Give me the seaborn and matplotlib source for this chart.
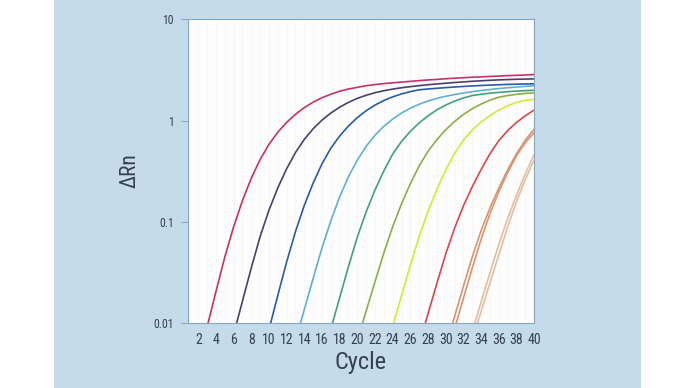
import matplotlib
matplotlib.use("Agg")
import pandas as pd
import seaborn as sns
import matplotlib.pyplot as plt
from matplotlib import font_manager
from matplotlib.patches import Rectangle
from matplotlib.ticker import NullLocator

# amplification curves, one value per cycle, starting at first_cycle
first_cycle = [3, 6, 10, 13, 17, 20, 24, 27, 30, 31, 33, 33]
curve_names = ["c1", "c2", "c3", "c4", "c5", "c6", "c7", "c8", "c9a", "c9b", "c10a", "c10b"]
curve_colors = ["#c8306a", "#4c3f6b", "#2c5aa8", "#62b0cf", "#44a07a", "#8cae48",
                "#d4ea30", "#d8484a", "#d99470", "#d99470", "#e3bea0", "#e3bea0"]

c1 = [0.0091, 0.0204, 0.0447, 0.0891, 0.162, 0.269, 0.412, 0.582, 0.767, 0.959, 1.153,
      1.343, 1.52, 1.68, 1.82, 1.95, 2.05, 2.13, 2.21, 2.27, 2.32, 2.36, 2.40, 2.44, 2.48,
      2.52, 2.55, 2.59, 2.62, 2.65, 2.68, 2.70, 2.73, 2.75, 2.78, 2.80, 2.82, 2.85]
c2 = [0.00766, 0.0164, 0.035, 0.0714, 0.13, 0.216, 0.334, 0.483, 0.652, 0.83, 1.009,
      1.186, 1.355, 1.514, 1.656, 1.778, 1.884, 1.972, 2.046, 2.109, 2.163, 2.213, 2.259,
      2.301, 2.339, 2.377, 2.41, 2.443, 2.472, 2.50, 2.523, 2.541, 2.559, 2.57, 2.582]
c3 = [0.00855, 0.0187, 0.040, 0.0798, 0.145, 0.241, 0.373, 0.533, 0.703, 0.885, 1.069,
      1.25, 1.422, 1.578, 1.714, 1.832, 1.932, 2.014, 2.051, 2.084, 2.116, 2.145, 2.173,
      2.198, 2.221, 2.241, 2.259, 2.275, 2.288, 2.299, 2.307]
c4 = [0.0066, 0.0135, 0.0275, 0.055, 0.102, 0.176, 0.279, 0.407, 0.556, 0.716, 0.877,
      1.035, 1.186, 1.324, 1.449, 1.56, 1.656, 1.738, 1.807, 1.871, 1.928, 1.982, 2.028,
      2.07, 2.109, 2.143, 2.178, 2.208]
c5 = [0.00867, 0.0177, 0.0361, 0.0705, 0.125, 0.206, 0.318, 0.466, 0.621, 0.782, 0.948,
      1.114, 1.274, 1.422, 1.556, 1.671, 1.766, 1.82, 1.862, 1.897, 1.928, 1.954, 1.975,
      1.991]
c6 = [0.0067, 0.0131, 0.0255, 0.0491, 0.0893, 0.15, 0.238, 0.356, 0.497, 0.647, 0.811,
      0.979, 1.146, 1.306, 1.455, 1.589, 1.702, 1.766, 1.816, 1.854, 1.879]
c7 = [0.00933, 0.0186, 0.0372, 0.0716, 0.127, 0.209, 0.324, 0.473, 0.638, 0.804, 0.966,
      1.122, 1.268, 1.40, 1.514, 1.585, 1.62]
c8 = [0.00617, 0.0123, 0.0245, 0.0479, 0.0861, 0.143, 0.221, 0.327, 0.468, 0.631, 0.794,
      0.955, 1.114, 1.268]
c9a = [0.00575, 0.0115, 0.0229, 0.0447, 0.0813, 0.136, 0.214, 0.324, 0.468, 0.638, 0.822]
c9b = [0.0087, 0.0174, 0.0347, 0.0668, 0.119, 0.197, 0.305, 0.447, 0.603, 0.759]
c10a = [0.00818, 0.016, 0.0311, 0.0593, 0.107, 0.181, 0.297, 0.46]
c10b = [0.00679, 0.0129, 0.0247, 0.0465, 0.0885, 0.157, 0.261, 0.405]

curve_values = [c1, c2, c3, c4, c5, c6, c7, c8, c9a, c9b, c10a, c10b]

x_ticks = list(range(2, 41, 2))
y_ticks = [0.01, 0.1, 1, 10]
y_tick_labels = ["0.01", "0.1", "1", "10"]

rows = []
for name, start, vals in zip(curve_names, first_cycle, curve_values):
    for i, v in enumerate(vals):
        rows.append({"curve": name, "cycle": start + i, "dRn": v})
df = pd.DataFrame(rows)

sns.set_theme(style="white")
available = {f.name for f in font_manager.fontManager.ttflist}
font = "DejaVu Sans"
for fam in ["Liberation Sans Narrow", "Roboto Condensed", "DejaVu Sans Condensed", "Roboto"]:
    if fam in available:
        font = fam
        break
plt.rcParams["font.family"] = [font, "DejaVu Sans"]

panel = "#c5dbe9"
edge = "#86a7c2"
text_col = "#34404c"

fig = plt.figure(figsize=(6.9, 3.88), dpi=100, facecolor="white")
fig.patches.append(Rectangle((54 / 690, 0), (641 - 54) / 690, 1, transform=fig.transFigure,
                             facecolor=panel, edgecolor="none", zorder=-5))
ax = fig.add_axes([0.272, 0.168, 0.502, 0.782])
ax.set_zorder(2)
ax.set_facecolor("#fdfdfd")

sns.lineplot(data=df, x="cycle", y="dRn", hue="curve", hue_order=curve_names,
             palette=dict(zip(curve_names, curve_colors)), estimator=None, sort=False,
             legend=False, linewidth=1.2, ax=ax)

ax.set_yscale("log")
ax.set_ylim(0.01, 10)
ax.set_xlim(0.8, 40)
ax.set_yticks(y_ticks)
ax.set_yticklabels(y_tick_labels)
ax.yaxis.set_minor_locator(NullLocator())
ax.set_xticks(x_ticks)
ax.set_xticklabels([str(t) for t in x_ticks])
ax.set_xticks(range(1, 40, 2), minor=True)
ax.grid(axis="x", which="both", color="#f7f7f7", linewidth=0.7)
ax.set_axisbelow(True)

ax.tick_params(axis="x", which="major", length=4, width=0.8, color=edge, pad=3,
               labelsize=10, labelcolor=text_col)
ax.tick_params(axis="x", which="minor", length=0)
ax.tick_params(axis="y", which="major", length=5, width=0.8, color=edge, pad=5,
               labelsize=8.5, labelcolor=text_col, left=True)
for s in ax.spines.values():
    s.set_color(edge)
    s.set_linewidth(0.8)

ax.set_xlabel("Cycle", fontsize=17.5, color=text_col)
ax.set_ylabel("ΔRn", fontsize=15.5, color=text_col)
ax.xaxis.set_label_coords(0.5, -0.092)
ax.yaxis.set_label_coords(-0.135, 0.5)

fig.savefig("out.png", dpi=100, facecolor="white")
